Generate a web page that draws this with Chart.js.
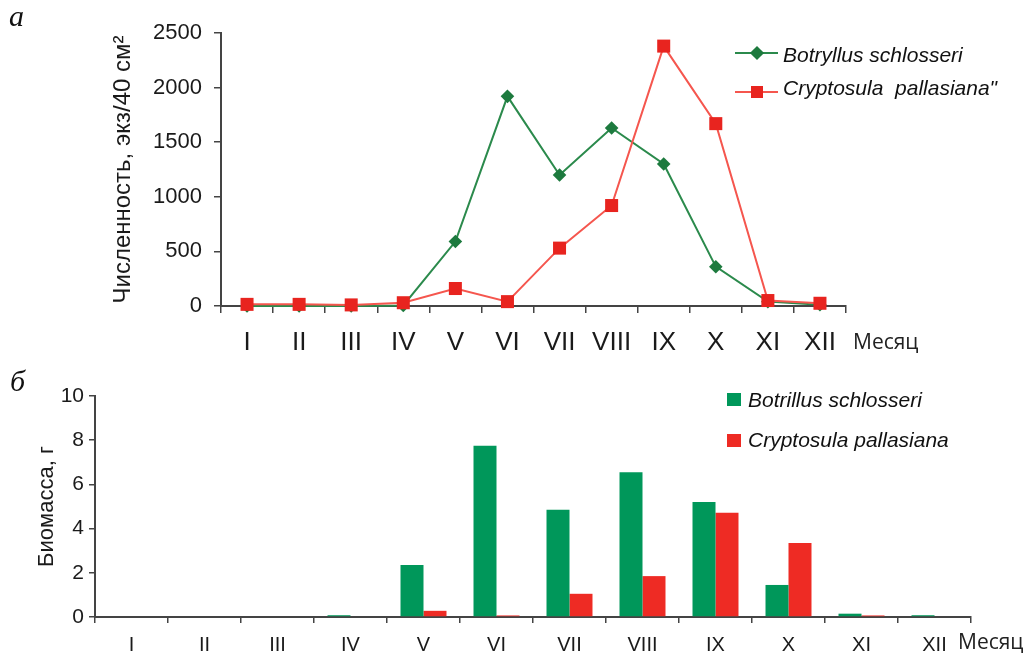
<!DOCTYPE html>
<html><head><meta charset="utf-8">
<script src="https://cdn.jsdelivr.net/npm/chart.js@4/dist/chart.umd.min.js"></script>
<style>
body{margin:0;width:1031px;height:656px;position:relative;background:#fff;overflow:hidden;font-family:"Liberation Sans",Arial,sans-serif;color:#111;}
canvas{position:absolute;left:0;}
#c1{top:0;}
#c2{top:370px;}
.t{position:absolute;white-space:pre;line-height:1;}
.panel{font-family:"Liberation Serif","Times New roman",serif;font-style:italic;font-size:30px;}
.month{font-family:"Open Sans",sans-serif;font-size:21px;color:#222;}
.leg{font-style:italic;font-size:21px;color:#111;}
.ln{position:absolute;height:2px;}
.mk{position:absolute;}
</style></head>
<body>
<canvas id="c1" width="1031" height="370"></canvas>
<canvas id="c2" width="1031" height="286"></canvas>
<div class="t panel" style="left:9px;top:1px;">а</div>
<div class="t panel" style="left:10px;top:366px;">б</div>
<div class="t month" style="left:853px;top:331px;">Месяц</div>
<div class="t month" style="left:958px;top:631px;">Месяц</div>
<div id="legends"></div>
<script>
const months = ['I','II','III','IV','V','VI','VII','VIII','IX','X','XI','XII'];
const abundanceBotryllus = [0, 0, 0, 5, 590, 1920, 1200, 1630, 1300, 360, 40, 12];
const abundanceCryptosula = [15, 15, 10, 30, 160, 40, 530, 920, 2380, 1670, 50, 25];
const biomassBotrillus = [0, 0, 0, 0.08, 2.35, 7.75, 4.85, 6.55, 5.2, 1.45, 0.15, 0.08];
const biomassCryptosula = [0, 0, 0, 0, 0.28, 0.07, 1.05, 1.85, 4.72, 3.35, 0.07, 0];
const labelsTop = ['Botryllus schlosseri', 'Cryptosula  pallasiana"'];
const labelsBottom = ['Botrillus schlosseri', 'Cryptosula pallasiana'];

const GREEN_LINE = '#2b8a4c', GREEN_PT = '#1d7a3e', RED_LINE = '#f5564e', RED_PT = '#e8241f';
const GREEN_BAR = '#00975a', RED_BAR = '#ee2b24';
const AX = '#444', TXT = '#1a1a1a';

Chart.defaults.font.family = "'Liberation Sans', Arial, sans-serif";

new Chart(document.getElementById('c1'), {
  type: 'line',
  data: { labels: months, datasets: [
    { label: labelsTop[0], data: abundanceBotryllus, borderColor: GREEN_LINE, backgroundColor: GREEN_PT,
      pointBackgroundColor: GREEN_PT, pointBorderWidth: 0, pointStyle: 'rectRot', pointRadius: 6.8,
      borderWidth: 2, tension: 0, order: 2 },
    { label: labelsTop[1], data: abundanceCryptosula, borderColor: RED_LINE, backgroundColor: RED_PT,
      pointBackgroundColor: RED_PT, pointBorderWidth: 0, pointStyle: 'rect', pointRadius: 9.2,
      borderWidth: 2, tension: 0, order: 1 }
  ]},
  options: {
    responsive: false, animation: false,
    layout: { padding: { left: 105, top: 33, right: 185, bottom: 14 } },
    plugins: { legend: { display: false }, tooltip: { enabled: false } },
    elements: { point: { hoverRadius: 0 } },
    clip: false,
    scales: {
      x: { offset: true,
        grid: { offset: true, drawOnChartArea: false, tickLength: 7, color: AX, lineWidth: 1.5 },
        border: { color: AX, width: 2 },
        ticks: { font: { size: 26 }, color: TXT, padding: 14, maxRotation: 0, autoSkip: false },
        afterFit(s) { s.height = 50; } },
      y: { min: 0, max: 2500,
        grid: { drawOnChartArea: false, tickLength: 7, color: AX, lineWidth: 1.5 },
        border: { color: AX, width: 2 },
        ticks: { stepSize: 500, font: { size: 22 }, color: TXT, padding: 12, callback: v => String(v) },
        title: { display: true, text: 'Численность, экз/40 см²', font: { size: 24 }, color: TXT },
        afterFit(s) { s.width = 116; } }
    }
  }
});

new Chart(document.getElementById('c2'), {
  type: 'bar',
  data: { labels: months, datasets: [
    { label: labelsBottom[0], data: biomassBotrillus, backgroundColor: GREEN_BAR, categoryPercentage: 0.63, barPercentage: 1 },
    { label: labelsBottom[1], data: biomassCryptosula, backgroundColor: RED_BAR, categoryPercentage: 0.63, barPercentage: 1 }
  ]},
  options: {
    responsive: false, animation: false,
    layout: { padding: { left: 30, top: 26, right: 60, bottom: 1 } },
    plugins: { legend: { display: false }, tooltip: { enabled: false } },
    scales: {
      x: { grid: { offset: true, drawOnChartArea: false, tickLength: 6, color: AX, lineWidth: 1.5 },
        border: { color: AX, width: 2 },
        ticks: { font: { size: 20 }, color: TXT, padding: 10, maxRotation: 0, autoSkip: false },
        afterFit(s) { s.height = 38; } },
      y: { min: 0, max: 10,
        grid: { drawOnChartArea: false, tickLength: 6, color: AX, lineWidth: 1.5 },
        border: { color: AX, width: 2 },
        ticks: { stepSize: 2, font: { size: 21 }, color: TXT, padding: 5 },
        title: { display: true, text: 'Биомасса, г', font: { size: 22 }, color: TXT },
        afterFit(s) { s.width = 65; } }
    }
  }
});

// HTML legends built from dataset labels
const L = document.getElementById('legends');
function add(html){ L.insertAdjacentHTML('beforeend', html); }
// top legend
add(`<div class="ln" style="left:735px;top:52px;width:43px;background:${GREEN_LINE}"></div>`);
add(`<div class="mk" style="left:752px;top:48px;width:10px;height:10px;background:${GREEN_PT};transform:rotate(45deg)"></div>`);
add(`<div class="t leg" style="left:783px;top:44px;">${labelsTop[0]}</div>`);
add(`<div class="ln" style="left:735px;top:91px;width:43px;background:${RED_LINE}"></div>`);
add(`<div class="mk" style="left:751px;top:86px;width:12px;height:12px;background:${RED_PT}"></div>`);
add(`<div class="t leg" style="left:783px;top:77px;">${labelsTop[1].replace(/"/g,'&quot;')}</div>`);
// bottom legend
add(`<div class="mk" style="left:727px;top:393px;width:14px;height:13px;background:${GREEN_BAR}"></div>`);
add(`<div class="t leg" style="left:748px;top:389px;">${labelsBottom[0]}</div>`);
add(`<div class="mk" style="left:727px;top:434px;width:14px;height:13px;background:${RED_BAR}"></div>`);
add(`<div class="t leg" style="left:748px;top:429px;">${labelsBottom[1]}</div>`);
</script>
</body></html>
